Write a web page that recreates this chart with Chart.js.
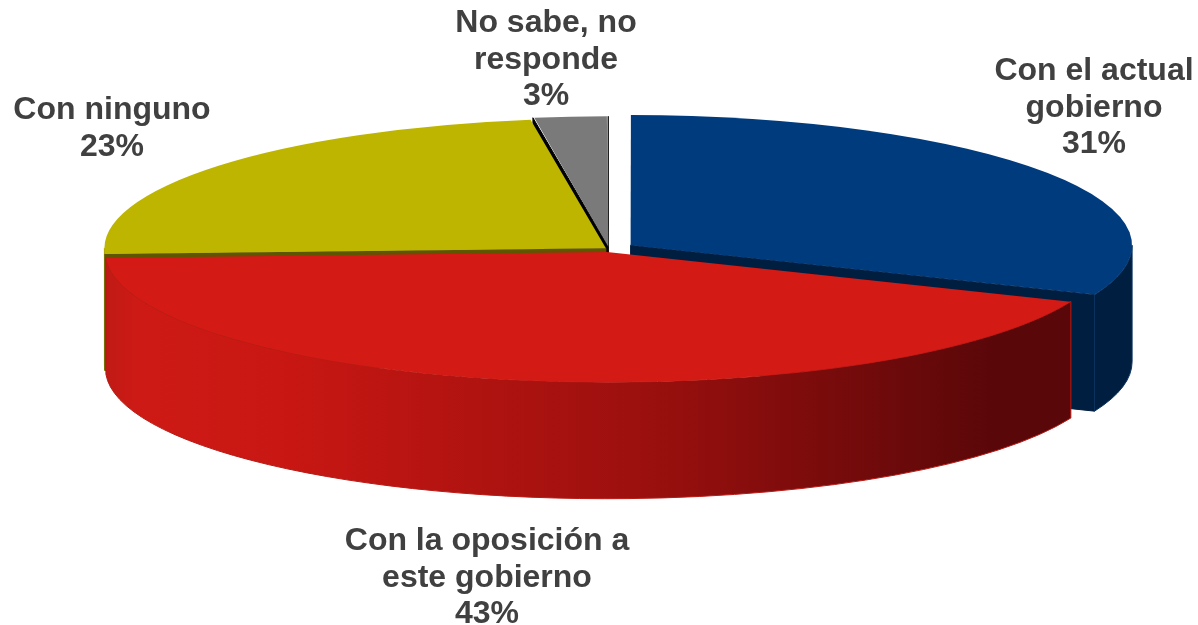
<!DOCTYPE html>
<html>
<head>
<meta charset="utf-8">
<title>Pie</title>
<script src="https://cdn.jsdelivr.net/npm/chart.js@4"></script>
<style>
  html, body { margin: 0; padding: 0; background: #fff; }
  canvas { display: block; }
</style>
</head>
<body>
<canvas id="pie" width="1198" height="625"></canvas>
<script>
// clockwise from the top, same order as the reference
const categories = [
  ['Con el actual', 'gobierno'],
  ['Con la oposición a', 'este gobierno'],
  ['Con ninguno'],
  ['No sabe, no', 'responde']
];
const printedPercents = ['31%', '43%', '23%', '3%'];
// slice sizes measured on the picture, the printed numbers are rounded
const sliceValues = [31.2, 43.1, 23.3, 2.4];

const topColors = ['#003b7d', '#d31a14', '#bdb500', '#7a7a7a'];
const explode = [104, 48, 16, 40];
const labelSpots = [[1094, 71], [487, 541], [112, 110], [546, 23]];

const FLATTEN = 0.2595;
const DEPTH = 116.5;
const RADIUS = 501.5;
const CENTER_Y = 249;

function flatY(y) { return CENTER_Y + (y - CENTER_Y) * FLATTEN; }

// where a slice really sits once its offset is applied
function sliceBox(arc) {
  const half = (arc.startAngle + arc.endAngle) / 2;
  const off = (arc.options.offset || 0) / 4;
  return { x: arc.x + Math.cos(half) * off, y: flatY(arc.y + Math.sin(half) * off) };
}

function drawOuterWall(ctx, arc, fill, line) {
  const a0 = Math.max(arc.startAngle, 0);
  const a1 = Math.min(arc.endAngle, Math.PI);
  if (a1 <= a0) return;
  const b = sliceBox(arc);
  ctx.beginPath();
  ctx.ellipse(b.x, b.y, RADIUS, RADIUS * FLATTEN, 0, a0, a1);
  ctx.ellipse(b.x, b.y + DEPTH, RADIUS, RADIUS * FLATTEN, 0, a1, a0, true);
  ctx.closePath();
  ctx.fillStyle = fill;
  ctx.fill();
  ctx.strokeStyle = line;
  ctx.lineWidth = 1;
  ctx.stroke();
}

function drawCutFace(ctx, arc, angle, fill, line) {
  const b = sliceBox(arc);
  const rimX = b.x + Math.cos(angle) * RADIUS;
  const rimY = b.y + Math.sin(angle) * RADIUS * FLATTEN;
  ctx.beginPath();
  ctx.moveTo(b.x, b.y);
  ctx.lineTo(rimX, rimY);
  ctx.lineTo(rimX, rimY + DEPTH);
  ctx.lineTo(b.x, b.y + DEPTH);
  ctx.closePath();
  ctx.fillStyle = fill;
  ctx.fill();
  ctx.strokeStyle = line;
  ctx.lineWidth = 1;
  ctx.stroke();
}

const pie3d = {
  id: 'pie3d',
  afterDatasetsUpdate(chart) {
    // the arc grows a bit with its offset, keep every slice on the same radius
    chart.getDatasetMeta(0).data.forEach(arc => {
      const fix = 1 - Math.sin(Math.min(Math.PI, arc.circumference));
      arc.outerRadius = RADIUS - (arc.options.offset / 4) * fix;
    });
  },
  beforeDatasetsDraw(chart) {
    const ctx = chart.ctx;
    const [blue, red, yellow, gray] = chart.getDatasetMeta(0).data;

    drawCutFace(ctx, gray, gray.startAngle, '#000000', '#000000');
    drawCutFace(ctx, gray, gray.endAngle, '#111111', '#111111');
    drawOuterWall(ctx, yellow, '#a8a200', '#a8a200');
    drawCutFace(ctx, yellow, yellow.startAngle, '#5f5500', '#5f5500');
    drawCutFace(ctx, blue, blue.endAngle, '#001e40', '#001e40');
    drawOuterWall(ctx, blue, '#001e40', '#0a3360');

    const shade = ctx.createLinearGradient(106, 0, 1072, 0);
    shade.addColorStop(0, '#c01a15');
    shade.addColorStop(0.03, '#cd1a15');
    shade.addColorStop(0.18, '#c91713');
    shade.addColorStop(0.55, '#9c100e');
    shade.addColorStop(0.92, '#5a0709');
    shade.addColorStop(1, '#5a0709');
    drawOuterWall(ctx, red, shade, '#b81a15');

    ctx.save();
    ctx.translate(0, CENTER_Y * (1 - FLATTEN));
    ctx.scale(1, FLATTEN);
  },
  afterDatasetsDraw(chart) {
    const ctx = chart.ctx;
    ctx.restore();

    ctx.save();
    ctx.font = 'bold 32px "Liberation Sans", Arial, sans-serif';
    ctx.fillStyle = '#404040';
    ctx.textAlign = 'center';
    ctx.textBaseline = 'middle';
    categories.forEach((lines, i) => {
      const [x, y] = labelSpots[i];
      lines.concat(printedPercents[i]).forEach((text, n) => {
        ctx.fillText(text, x, y + n * 36.7);
      });
    });
    ctx.restore();
  }
};

new Chart(document.getElementById('pie'), {
  type: 'pie',
  data: {
    labels: categories.map(c => c.join(' ')),
    datasets: [{
      data: sliceValues,
      backgroundColor: topColors,
      borderWidth: 0,
      offset: explode,
      radius: RADIUS,
      clip: false
    }]
  },
  options: {
    responsive: false,
    animation: false,
    events: [],
    layout: { padding: { left: 20, bottom: 127 } },
    plugins: { legend: { display: false }, tooltip: { enabled: false } }
  },
  plugins: [pie3d]
});
</script>
</body>
</html>
